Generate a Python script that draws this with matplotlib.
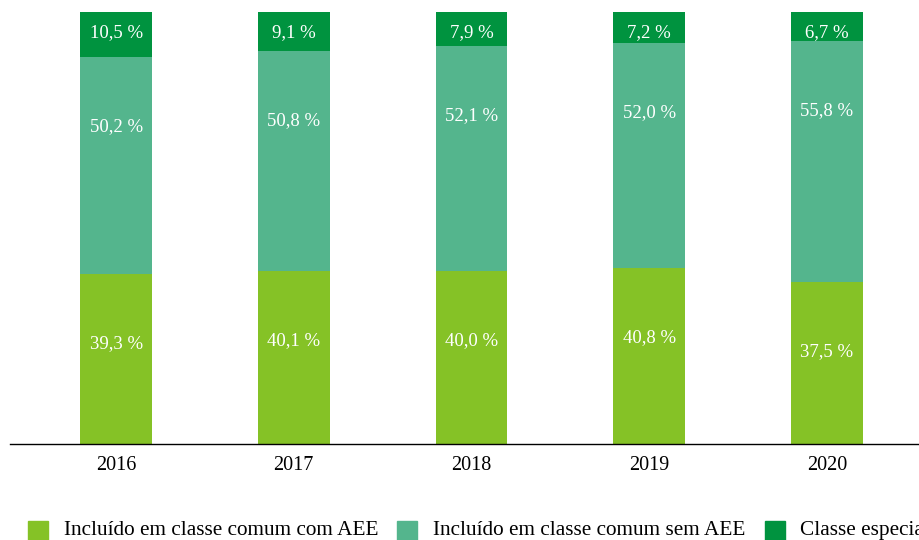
import matplotlib
matplotlib.use("Agg")
import matplotlib.pyplot as plt
from matplotlib.patches import Rectangle
import numpy as np

plt.rcParams["font.family"] = ["Liberation Serif", "DejaVu Serif"]

years = ["2016", "2017", "2018", "2019", "2020"]
com_aee = [39.3, 40.1, 40.0, 40.8, 37.5]
sem_aee = [50.2, 50.8, 52.1, 52.0, 55.8]
especial = [10.5, 9.1, 7.9, 7.2, 6.7]
series_names = ["Incluído em classe comum com AEE",
                "Incluído em classe comum sem AEE",
                "Classe especial"]

LIGHT = "#85C226"
TEAL = "#54B58D"
DARK = "#00933F"

fig = plt.figure(figsize=(9.2, 5.4), dpi=100)
ax = fig.add_axes([10/920, 96/540, 923/920, 432/540])

x = np.arange(len(years))
w = 0.405
ax.bar(x, com_aee, w, color=LIGHT)
ax.bar(x, sem_aee, w, bottom=com_aee, color=TEAL)
bot3 = np.array(com_aee) + np.array(sem_aee)
ax.bar(x, especial, w, bottom=bot3, color=DARK)

def fmt(v):
    return f"{v:.1f}".replace(".", ",") + " %"

# labels sit a fixed distance below the top of each segment
for i in range(len(years)):
    ax.annotate(fmt(com_aee[i]), (x[i], com_aee[i]), xytext=(0, -50),
                textcoords="offset points", ha="center", va="center",
                color="white", fontsize=13.5)
    ax.annotate(fmt(sem_aee[i]), (x[i], bot3[i]), xytext=(0, -50),
                textcoords="offset points", ha="center", va="center",
                color="white", fontsize=13.5)
    ax.annotate(fmt(especial[i]), (x[i], bot3[i] + especial[i]), xytext=(0, -14.5),
                textcoords="offset points", ha="center", va="center",
                color="white", fontsize=13.5)

ax.set_xlim(-0.597, 4.597)
ax.set_ylim(0, 100)
ax.set_xticks(x)
ax.set_xticklabels(years, fontsize=14.5)
ax.tick_params(axis="x", length=0, pad=9)
ax.set_yticks([])
for s in ["top", "right", "left"]:
    ax.spines[s].set_visible(False)
ax.spines["bottom"].set_linewidth(1.0)
ax.spines["bottom"].set_color("black")

# legend, drawn by hand to match the cropped layout
sq_x = [28, 397, 765]
tx_x = [64, 433, 800]
for sx, tx, c, name in zip(sq_x, tx_x, [LIGHT, TEAL, DARK], series_names):
    fig.add_artist(Rectangle((sx / 920, 0), 20 / 920, 19 / 540,
                             transform=fig.transFigure, color=c))
    fig.text(tx / 920, 5 / 540, name, ha="left", va="baseline", fontsize=15.3)

fig.savefig("out.png", dpi=100)
